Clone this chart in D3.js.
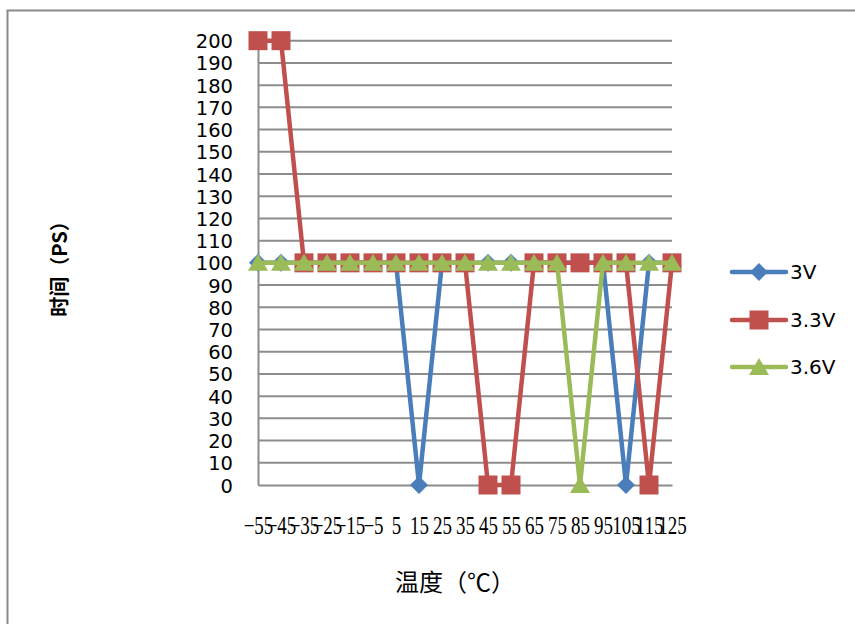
<!DOCTYPE html>
<html>
<head>
<meta charset="utf-8">
<script src="https://cdn.jsdelivr.net/npm/d3@7"></script>
<style>
  html, body { margin: 0; padding: 0; background: #fff; }
  svg { display: block; }
</style>
</head>
<body>
<svg id="chart" width="855" height="624"></svg>
<script>
// Temperature categories (°C) and tick labels
const categories = ["-55","-45","-35","-25","-15","-5","5","15","25","35","45","55","65","75","85","95","105","115","125"];
const tickLabels = ["\u221255","\u221245","\u221235","\u221225","\u221215","\u22125","5","15","25","35","45","55","65","75","85","95","105","115","125"];
const yTicks = [0,10,20,30,40,50,60,70,80,90,100,110,120,130,140,150,160,170,180,190,200];

// Measured times (PS) per supply voltage
const series3V  = [100,100,100,100,100,100,100,0,100,100,100,100,100,100,100,100,0,100,100];
const series33V = [200,200,100,100,100,100,100,100,100,100,0,0,100,100,100,100,100,0,100];
const series36V = [100,100,100,100,100,100,100,100,100,100,100,100,100,100,0,100,100,100,100];

const seriesNames = ["3V", "3.3V", "3.6V"];

const svg = d3.select("#chart");

// outer chart frame
svg.append("rect")
  .attr("x", 7.5).attr("y", 10.5)
  .attr("width", 900).attr("height", 700)
  .attr("fill", "#fff")
  .attr("stroke", "#898989").attr("stroke-width", 2);

const plot = { left: 258, right: 672, top: 40.7, bottom: 485 };

const x = d3.scalePoint().domain(categories).range([plot.left, plot.right]).padding(0);
const y = d3.scaleLinear().domain([0, 200]).range([plot.bottom, plot.top]);

// horizontal gridlines
svg.append("g")
  .selectAll("line")
  .data(yTicks.filter(d => d > 0))
  .join("line")
  .attr("x1", plot.left).attr("x2", plot.right)
  .attr("y1", d => y(d)).attr("y2", d => y(d))
  .attr("stroke", "#8c8c8c").attr("stroke-width", 2);

// y axis
const yAxis = svg.append("g")
  .attr("transform", `translate(${plot.left},0)`)
  .call(d3.axisLeft(y).tickValues(yTicks).tickSize(0).tickPadding(25).tickFormat(d3.format("d")));
yAxis.select(".domain").attr("stroke", "#8c8c8c").attr("stroke-width", 2);
yAxis.selectAll("text")
  .attr("font-family", "'DejaVu Sans', sans-serif")
  .attr("font-size", 19.5)
  .attr("fill", "#000")
  .attr("dy", "0.36em");

// x axis
const xAxis = svg.append("g")
  .attr("transform", `translate(0,${plot.bottom})`)
  .call(d3.axisBottom(x).tickSize(0).tickFormat((d, i) => tickLabels[i]));
xAxis.select(".domain").attr("stroke", "#8c8c8c").attr("stroke-width", 2);
xAxis.selectAll(".tick text")
  .attr("font-family", "'Liberation Serif', serif")
  .attr("font-size", 25)
  .attr("fill", "#000")
  .attr("y", 0).attr("dy", 0)
  .attr("transform", "translate(0,49) scale(0.76,1)")
  .attr("text-anchor", "middle");

const colors = ["#4a7ebb", "#c0504d", "#9bbb59"];
const allSeries = [series3V, series33V, series36V];

const line = d3.line().x((d, i) => x(categories[i])).y(d => y(d));

// diamond, square and triangle markers
function marker(g, k, cx, cy) {
  if (k === 2) {
    g.append("path")
      .attr("d", `M${cx},${cy - 9} L${cx + 10},${cy + 8} L${cx - 10},${cy + 8} Z`)
      .attr("fill", colors[k]);
  } else if (k === 0) {
    g.append("path")
      .attr("d", `M${cx},${cy - 9} L${cx + 9},${cy} L${cx},${cy + 9} L${cx - 9},${cy} Z`)
      .attr("fill", colors[k]);
  } else {
    g.append("rect")
      .attr("x", cx - 9.5).attr("y", cy - 9.5)
      .attr("width", 19).attr("height", 19)
      .attr("fill", colors[k]);
  }
}

allSeries.forEach((vals, k) => {
  const g = svg.append("g");
  g.append("path")
    .datum(vals)
    .attr("d", line)
    .attr("fill", "none")
    .attr("stroke", colors[k])
    .attr("stroke-width", 4.5)
    .attr("stroke-linejoin", "round")
    .attr("stroke-linecap", "round");
  vals.forEach((v, i) => marker(g, k, x(categories[i]), y(v)));
});

// legend
const legendRows = [272, 320, 367];
seriesNames.forEach((name, k) => {
  const g = svg.append("g");
  const ly = legendRows[k];
  g.append("line")
    .attr("x1", 732).attr("x2", 786)
    .attr("y1", ly).attr("y2", ly)
    .attr("stroke", colors[k]).attr("stroke-width", 4.5)
    .attr("stroke-linecap", "round");
  marker(g, k, 759, ly);
  g.append("text")
    .attr("x", 790).attr("y", ly)
    .attr("dy", "0.36em")
    .attr("font-family", "'DejaVu Sans', sans-serif")
    .attr("font-size", 20)
    .attr("fill", "#000")
    .text(name);
});

// axis titles
svg.append("text")
  .attr("transform", "translate(67,264) rotate(-90)")
  .attr("text-anchor", "middle")
  .attr("font-family", "'Noto Sans CJK SC', sans-serif")
  .attr("font-size", 20)
  .attr("font-weight", "bold")
  .attr("fill", "#000")
  .text("时间（PS）");

svg.append("text")
  .attr("x", 455).attr("y", 591)
  .attr("text-anchor", "middle")
  .attr("font-family", "'Noto Sans CJK SC', sans-serif")
  .attr("font-size", 24)
  .attr("fill", "#000")
  .text("温度（℃）");
</script>
</body>
</html>
